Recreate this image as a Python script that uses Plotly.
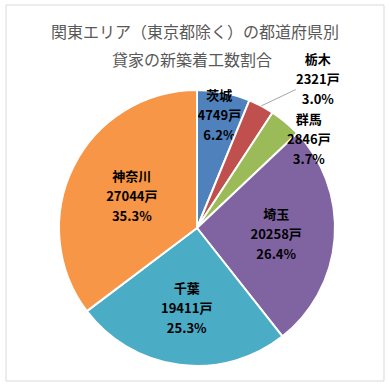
import math
import plotly.graph_objects as go

# ---- data ----
prefectures = ["茨城", "栃木", "群馬", "埼玉", "千葉", "神奈川"]
units = [4749, 2321, 2846, 20258, 19411, 27044]
colors = ["#4F81BD", "#C0504D", "#9BBB59", "#8064A2", "#4BACC6", "#F79646"]
label_pos = ["inside", "none", "none", "inside", "inside", "inside"]
title_lines = ["関東エリア（東京都除く）の都道府県別", "貸家の新築着工数割合"]

W, H = 389, 386
ml, mr, mt, mb = 59, 54, 90, 20
pw, ph = W - ml - mr, H - mt - mb
R = min(pw, ph) / 2
cx, cy = ml + pw / 2, mt + ph / 2

def px(x):
    return (x - ml) / pw

def py(y):
    return 1 - (y - mt) / ph

font_family = "Noto Sans CJK JP"
GLYPH = 13          # visible glyph size
LINE_BASE = 15.4    # base size -> 1.3em line spacing ~ 20px
lab_font = dict(family=font_family, size=LINE_BASE, color="black", weight="bold")

def s(t):
    return f"<span style='font-size:{GLYPH}px'>{t}</span>"

fig = go.Figure(
    go.Pie(
        labels=prefectures,
        values=units,
        sort=False,
        direction="clockwise",
        rotation=0,
        marker=dict(colors=colors, line=dict(color="white", width=2)),
        texttemplate=s("%{label}") + "<br>" + s("%{value:d}戸") + "<br>" + s("%{percent:.1%}"),
        textposition=label_pos,
        insidetextorientation="horizontal",
        textfont=lab_font,
        hoverinfo="label+value+percent",
        showlegend=False,
    )
)

# slice geometry derived from the data (for the two small outside labels)
total = sum(units)
cum = 0
mid_angles = []
for v in units:
    mid_angles.append((cum + v / 2) / total * 2 * math.pi)
    cum += v

def edge_point(i, k=1.0):
    a = mid_angles[i]
    return cx + k * R * math.sin(a), cy - k * R * math.cos(a)

def label_text(i):
    return (s(prefectures[i]) + "<br>" + s(f"{units[i]}戸") + "<br>"
            + s(f"{units[i] / total * 100:.1f}%"))

annotations = [
    dict(text=title_lines[0], x=px(195), y=py(31), xref="paper", yref="paper",
         showarrow=False, xanchor="center", yanchor="middle",
         font=dict(family=font_family, size=16, color="#595959")),
    dict(text=title_lines[1], x=px(192), y=py(59), xref="paper", yref="paper",
         showarrow=False, xanchor="center", yanchor="middle",
         font=dict(family=font_family, size=16, color="#595959")),
]

# 栃木 : outside with leader line
ex, ey = edge_point(1)
annotations.append(dict(
    text=label_text(1), x=px(ex), y=py(ey), xref="paper", yref="paper",
    showarrow=True, arrowhead=0, arrowwidth=1, arrowcolor="#A6A6A6",
    ax=57, ay=-27, font=lab_font, align="center", borderpad=0))

# 群馬 : just outside the edge, no leader line
ex, ey = edge_point(2)
annotations.append(dict(
    text=label_text(2), x=px(ex), y=py(ey), xref="paper", yref="paper",
    showarrow=False, xshift=23, yshift=-16, font=lab_font, align="center",
    xanchor="center", yanchor="middle", borderpad=0))

fig.update_layout(
    width=W, height=H,
    margin=dict(l=ml, r=mr, t=mt, b=mb),
    paper_bgcolor="white",
    plot_bgcolor="white",
    annotations=annotations,
    uniformtext=dict(minsize=LINE_BASE, mode="show"),
    shapes=[dict(type="rect", xref="paper", yref="paper",
                 x0=px(6), x1=px(384), y0=py(381), y1=py(5),
                 line=dict(color="#D9D9D9", width=1), fillcolor="rgba(0,0,0,0)",
                 layer="below")],
)

fig.write_html("out.html", config={"displayModeBar": False},
               post_script="document.body.style.margin='0px';")
